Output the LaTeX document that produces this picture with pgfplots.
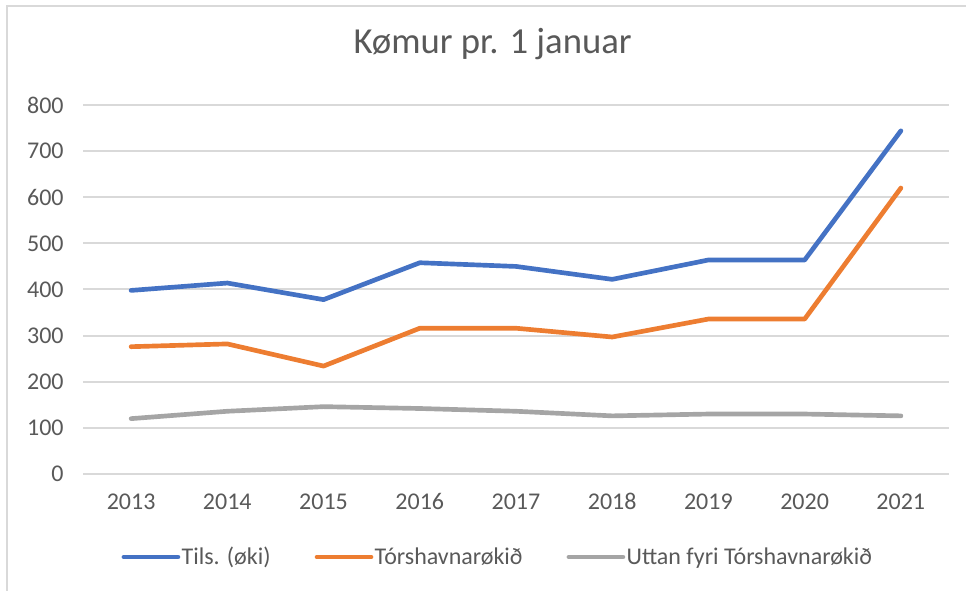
\documentclass[border=0pt]{standalone}
\usepackage{pgfplots}
\pgfplotsset{compat=1.18}
\usepackage{fontspec}
\setmainfont{Carlito}
\definecolor{cblue}{HTML}{4472C4}
\definecolor{corange}{HTML}{ED7D31}
\definecolor{cgray}{HTML}{A5A5A5}
\definecolor{ctext}{HTML}{595959}
\definecolor{cgrid}{HTML}{D9D9D9}
\begin{document}
\begin{tikzpicture}
\path[use as bounding box] (0pt,0pt) rectangle (724.5pt,443.25pt);
\draw[cgrid, line width=1.5pt] (4.5pt,438.75pt) -- (724.5pt,438.75pt);
\draw[cgrid, line width=1.5pt] (5.25pt,0pt) -- (5.25pt,439.5pt);
\begin{axis}[
  at={(62.25pt,87.75pt)}, anchor=south west,
  scale only axis,
  width=649.5pt, height=276.75pt,
  xmin=2012.5, xmax=2021.5,
  ymin=0, ymax=800,
  xtick={2013,...,2021},
  ytick={0,100,...,800},
  /pgf/number format/1000 sep={},
  /pgf/number format/assume math mode=true,
  axis line style={draw=none},
  major tick length=0pt,
  ymajorgrids,
  grid style={cgrid, line width=1.5pt},
  tick label style={font=\fontsize{18}{22}\selectfont, text=ctext},
  xticklabel style={anchor=north, yshift=-12pt, text height=11.4pt, text depth=0pt},
  yticklabel style={xshift=-11pt},
  title={Kømur pr. 1 januar},
  title style={at={(0.473,1.119)}, anchor=base, font=\fontsize{27.5}{33}\selectfont, text=ctext},
  legend columns=3,
  legend style={at={(0.4786,-0.225)}, anchor=center, draw=none, fill=none,
    font=\fontsize{18}{22}\selectfont, text=ctext,
    nodes={inner sep=1pt},
    /tikz/every even column/.append style={column sep=32pt}},
  legend image code/.code={\draw[#1, line cap=round] (0pt,0pt) -- (40.5pt,0pt);},
  every axis plot/.append style={line width=3.5pt, line join=round, line cap=round},
]
\addplot[cblue] coordinates {(2013,398) (2014,414) (2015,378) (2016,458) (2017,450) (2018,422) (2019,464) (2020,464) (2021,744)};
\addlegendentry{Tils. (øki)}
\addplot[corange] coordinates {(2013,276) (2014,282) (2015,234) (2016,316) (2017,316) (2018,297) (2019,336) (2020,336) (2021,620)};
\addlegendentry{Tórshavnarøkið}
\addplot[cgray] coordinates {(2013,120) (2014,136) (2015,146) (2016,142) (2017,136) (2018,126) (2019,130) (2020,130) (2021,126)};
\addlegendentry{Uttan fyri Tórshavnarøkið}
\end{axis}
\end{tikzpicture}
\end{document}
